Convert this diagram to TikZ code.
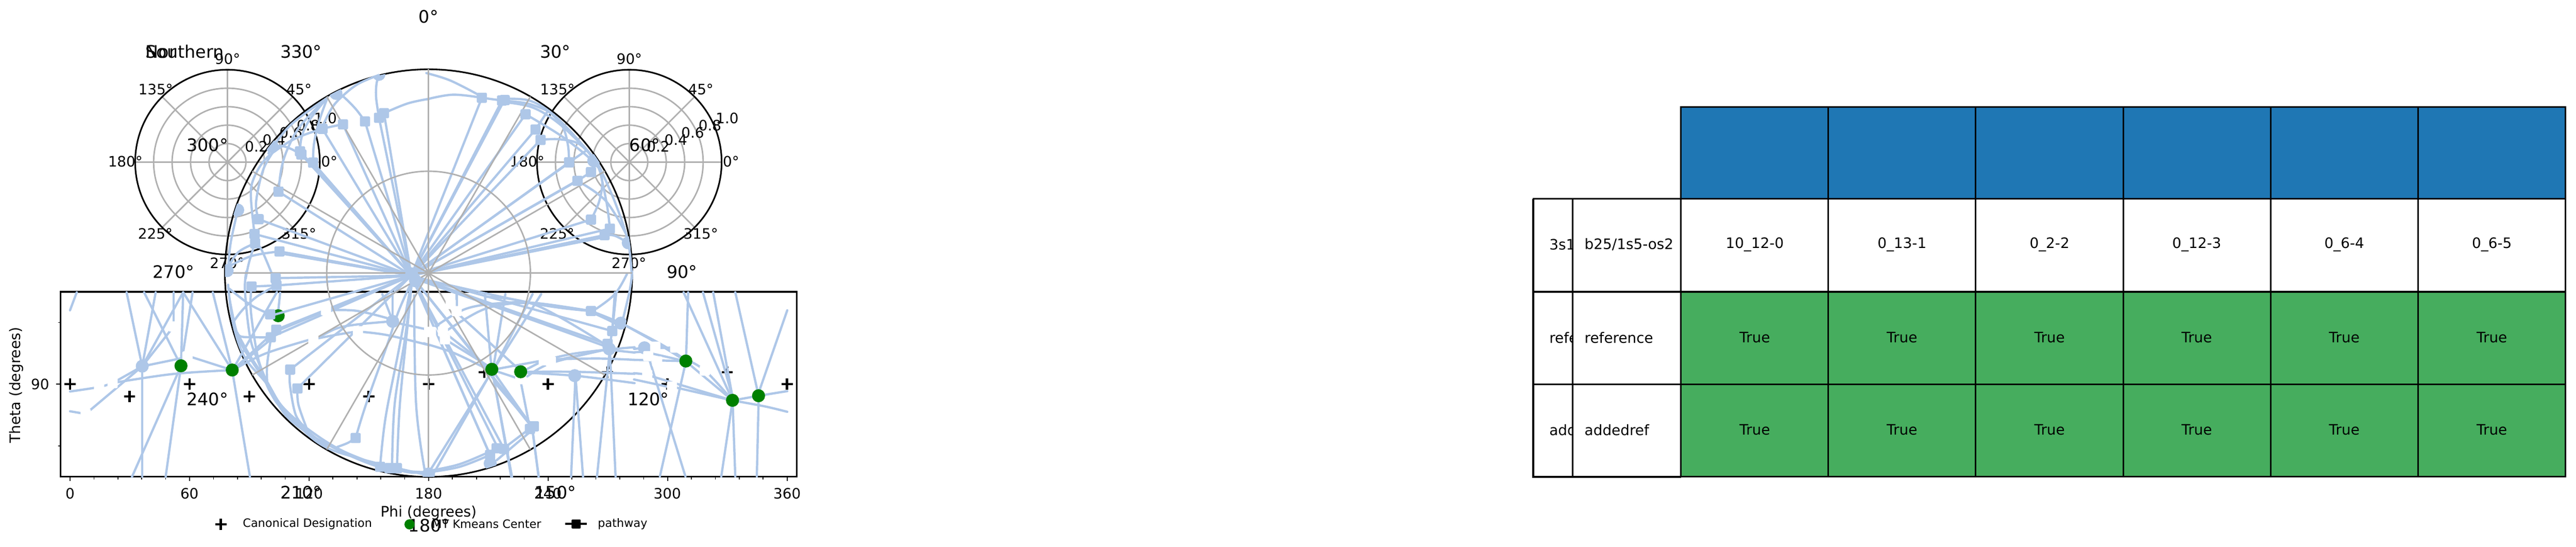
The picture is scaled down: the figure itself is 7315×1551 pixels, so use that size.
\documentclass[tikz,border=0pt]{standalone}
\usepackage{fontspec}
\setmainfont{DejaVu Sans}
\definecolor{pw}{HTML}{AEC7E8}
\definecolor{gridc}{HTML}{B0B0B0}
\definecolor{hdr}{HTML}{1F77B4}
\definecolor{grn}{HTML}{46AD5E}
\definecolor{dot}{HTML}{008000}
\newcommand\bl[1]{\draw[pathln] plot[smooth,tension=.6] coordinates {#1};}
\newcommand\st[1]{\draw[pathln] #1;}
\tikzset{
  pathln/.style={draw=pw,line width=.065cm,line join=round,line cap=round},
  gridl/.style={draw=gridc,line width=.042cm},
  frame/.style={draw=black,line width=.045cm},
  tick/.style={draw=black,line width=.025cm},
  bigl/.style={font=\fontsize{13.9}{16}\selectfont,inner sep=0pt},
  tl/.style={font=\fontsize{11.6}{14}\selectfont,inner sep=0pt},
  legl/.style={font=\fontsize{9.3}{11}\selectfont,inner sep=0pt,anchor=west},
  cellt/.style={font=\fontsize{11.6}{14}\selectfont,inner sep=0pt},
  cellw/.style={cellt,anchor=west},
  plusm/.style={draw=black,line width=.065cm},
  zthree/.style={shift={(0cm,-7.5cm)},x=.007651cm,y=-.005102cm},
  zfour/.style={shift={(12cm,-7.5cm)},x=.007651cm,y=-.005102cm},
  zseven/.style={shift={(6.4cm,-1.9cm)},x=.0036996cm,y=-.003827cm},
  zeight/.style={shift={(12.1cm,-1.9cm)},x=.003762cm,y=-.003827cm},
  znine/.style={shift={(6.4cm,-7.7cm)},x=.0036996cm,y=-.003762cm},
  zten/.style={shift={(12.1cm,-7.7cm)},x=.003762cm,y=-.003762cm}
}
\newcommand\sqb[1]{\foreach \p in {#1} \fill[pw,rounded corners=.04cm] \p ++(-.145cm,-.145cm) rectangle ++(.29cm,.29cm);}
\newcommand\sqw[1]{\foreach \p in {#1} \fill[white,rounded corners=.04cm] \p ++(-.145cm,-.145cm) rectangle ++(.29cm,.29cm);}
\newcommand\cirb[1]{\foreach \p in {#1} \fill[pw] \p circle[radius=.185cm];}
\newcommand\toH[1]{\foreach \p in {#1} \draw[pathln] \p -- (H);}
\begin{document}
\begin{tikzpicture}[x=.01cm,y=-.01cm]
\useasboundingbox (0,0) rectangle (7315,1551);
\coordinate (C) at (1217,775);
\coordinate (H) at (1168,782);
\coordinate (LP) at (646,460);
\coordinate (RP) at (1787,460);
% small polar axes
\foreach \c in {LP,RP}{
  \foreach \r in {.524,1.048,1.572,2.096}
    \draw[gridl] (\c) circle[radius=\r cm];
  \foreach \a in {0,45,...,315}
    \draw[gridl] (\c) -- ++(\a:2.62cm);
  \draw[frame] (\c) circle[radius=2.62cm];
}
% rectangular axes
\draw[frame] (172,828) rectangle (2263,1353);
\foreach \i in {0,...,6}{
  \pgfmathsetmacro\xx{199+339.33*\i}
  \draw[tick] (\xx,1353) -- ++(0,12);
}
\foreach \i in {1,...,29}{
  \pgfmathsetmacro\xx{199+67.867*\i}
  \draw[tick] (\xx,1353) -- ++(0,7);
}
\draw[tick] (172,1090) -- ++(-13,0);
\draw[tick] (172,915) -- ++(-7,0);
\draw[tick] (172,1265) -- ++(-7,0);
% big polar frame
\draw[frame] (C) circle[radius=5.78cm];
% canonical markers
\foreach \p in {(199,1090),(368,1125),(538,1090),(708,1125),(878,1090),(1047,1125),(1217,1090),(1375,1056),(1556,1090),(1725,1056),(1895,1090),(2065,1056),(2235,1090)}
  \draw[plusm] \p ++(-.16cm,0cm) -- ++(.32cm,0cm) \p ++(0cm,-.16cm) -- ++(0cm,.32cm);
% small polar and big polar labels
\foreach \n/\t/\x/\y in {a1/90/646/168,a2/45/849/254,a3/135/442/254,a4/180/356/458,a5/0/935/458,a6/225/441/663,a7/315/849/663,a8/270/645/747,
  b1/90/1787/168,b2/45/1990/254,b3/135/1583/254,b4/180/1497/458,b5/0/2076/458,b6/225/1582/663,b7/315/1990/663,b8/270/1786/747}
  \node[tl] (\n) at (\x,\y) {\t°};
\foreach \n/\t/\x/\y in {c1/0.2/728/416,c2/0.4/778/397,c3/0.6/826/376,c4/0.8/875/356,c5/1.0/924/336,
  d1/0.2/1869/416,d2/0.4/1919/397,d3/0.6/1967/376,d4/0.8/2016/356,d5/1.0/2065/336}
  \node[tl] (\n) at (\x,\y) {\t};
\foreach \n/\t/\x/\y in {e0/0/1217/48,e1/30/1577/147,e2/60/1831/411,e3/90/1937/771,e4/120/1841/1133,e5/150/1577/1398,e6/180/1219/1491,e7/210/855/1398,e8/240/589/1133,e9/270/493/771,e10/300/589/411,e11/330/855/147}
  \node[bigl] (\n) at (\x,\y) {\t°};
\node[bigl,anchor=west] (tS) at (413,147) {Southern};
\node[bigl,anchor=west] (tN) at (413,147) {Nor};
% tick labels of rectangular axes
\foreach \n/\t/\x in {f0/0/199,f1/60/538,f2/120/878,f3/180/1217,f4/240/1556,f5/300/1895,f6/360/2235}
  \node[tl] (\n) at (\x,1400) {\t};
\node[tl] (f7) at (114,1091) {90};
\node[font=\fontsize{11.7}{14}\selectfont,inner sep=0pt] (xl) at (1217,1455) {Phi (degrees)};
\node[font=\fontsize{11.7}{14}\selectfont,inner sep=0pt,rotate=90] (yl) at (47,1093) {Theta (degrees)};
% legend
\draw[plusm] (611,1488) -- (643,1488) (627,1472) -- (627,1504);
\node[legl] (g1) at (689,1487) {Canonical Designation};
\fill[dot] (1163,1488) circle[radius=.145cm];
\node[legl] (g2) at (1226,1487) {MT Kmeans Center};
\draw[draw=black,line width=.06cm] (1605,1487) -- (1667,1487);
\fill[black,rounded corners=.03cm] (1623,1474) rectangle (1649,1500);
\node[legl] (g3) at (1697,1487) {pathway};
% pathway lines --------------------------------------------------
\begin{scope}[zseven]
\toH{(745,458),(903,425),(1072,403),(1180,376),(1218,342),(573,625),(583,648),(673,708),(407,923),(254,1127),(223,1237),(415,1366),(420,1380)}
\bl{(1180,376)(1158,230)(1160,130)(1178,60)}
\bl{(1218,342)(1400,270)(1568,235)}
\bl{(1072,403)(1000,310)(900,215)(848,195)}
\bl{(903,425)(745,458)(560,520)(430,590)(300,690)(215,830)(195,960)(223,1237)}
\bl{(673,708)(680,570)(720,400)(785,225)}
\bl{(583,648)(500,605)(430,585)(360,590)}
\bl{(407,923)(430,750)(480,600)(580,430)(785,225)}
\bl{(573,625)(585,520)(640,400)(780,230)}
\bl{(254,1127)(235,1000)(290,760)(380,610)}
\bl{(755,420)(820,300)(900,215)(1020,125)(1178,60)}
\bl{(228,1306)(100,1370)(15,1490)}
\bl{(415,1366)(200,1400)(20,1480)}
\bl{(228,1306)(275,1350)(360,1540)}
\bl{(95,1060)(40,1300)(20,1500)}
\bl{(228,1300)(180,1450)(155,1568)}
\bl{(330,640)(500,430)(780,230)}
\end{scope}
\begin{scope}[zeight]
\toH{(418,228),(570,248),(585,250),(747,350),(822,463),(860,540),(1075,706),(1060,720),(1138,843),(1120,850),(1240,1130),(1382,1197),(1342,1245),(1342,1260)}
\bl{(0,240)(200,205)(418,228)}
\bl{(0,45)(180,100)(400,210)}
\bl{(418,228)(570,248)(760,270)(915,325)}
\bl{(585,235)(760,245)(900,310)(1050,440)(1250,660)}
\bl{(585,260)(800,300)(1000,420)(1210,620)(1310,760)}
\bl{(747,350)(1000,500)(1200,650)(1290,740)}
\st{(822,463)--(915,325)}
\bl{(860,540)(1000,535)(1150,570)(1270,690)}
\bl{(1075,706)(1065,570)(1020,430)(915,325)}
\st{(1075,706)--(1210,615)}
\st{(1240,778)--(1138,843)}
\st{(1240,778)--(1280,720)}
\bl{(1138,843)(1350,990)(1500,1230)}
\bl{(1240,1130)(1300,1000)(1325,850)(1290,730)}
\bl{(1382,1197)(1360,1020)(1310,780)}
\bl{(1342,1245)(1420,1250)(1525,1305)}
\bl{(1280,690)(1420,1000)(1520,1300)(1548,1568)}
\end{scope}
\begin{scope}[znine]
\toH{(385,50),(392,105),(390,438),(390,450),(348,495),(497,738),(553,880)}
\st{(200,113)--(392,105)}
\bl{(1000,1253)(1080,1000)(1240,560)(1330,300)(1420,100)}
\bl{(1188,1470)(1230,1100)(1330,600)(1420,130)}
\bl{(1280,1480)(1300,1000)(1380,500)(1430,100)}
\bl{(1318,1480)(1340,1000)(1400,400)(1430,100)}
\bl{(1530,1490)(1465,1000)(1450,180)}
\bl{(343,322)(190,250)(30,130)}
\bl{(200,113)(195,300)(250,650)(320,830)}
\bl{(60,380)(130,290)(240,190)(392,105)}
\st{(395,155)--(52,745)}
\st{(420,160)--(405,300)}
\bl{(348,495)(240,495)(120,490)(90,460)}
\bl{(348,510)(320,700)(320,830)}
\bl{(497,738)(495,850)(540,1080)(620,1180)}
\bl{(553,880)(560,1000)(620,1170)}
\bl{(1000,1253)(940,1290)(860,1320)}
\bl{(20,100)(60,400)(150,650)(320,850)(480,1100)(780,1300)(1180,1470)(1530,1510)}
\bl{(30,200)(100,500)(220,700)(330,850)(440,1020)(640,1190)(900,1350)(1240,1480)}
\bl{(160,0)(150,150)(190,500)(260,700)(340,900)(460,1060)(780,1320)}
\bl{(90,460)(180,620)(320,830)(420,1000)(700,1280)(1000,1400)(1540,1530)}
\bl{(1188,1450)(1400,1510)(1568,1510)}
\st{(52,745)--(390,440)}
\st{(52,745)--(350,510)}
\bl{(52,745)(300,620)(640,515)}
\bl{(710,500)(850,430)(1000,400)(1240,378)}
\bl{(675,510)(830,480)(985,455)}
\bl{(1055,455)(1250,480)(1568,555)}
\bl{(772,292)(1000,295)(1240,350)}
\st{(1330,390)--(1568,440)}
\st{(1287,378)--(1205,170)}
\st{(1285,378)--(1285,160)}
\end{scope}
\begin{scope}[zten]
\toH{(1400,448),(1370,550),(770,1140),(790,1150),(530,1310),(585,1335),(480,1380),(470,1360)}
\bl{(-100,40)(800,240)(1240,297)}
\bl{(-100,50)(700,330)(1340,560)}
\bl{(450,190)(830,255)(1340,545)}
\bl{(60,420)(300,280)(600,235)(850,240)(1240,297)}
\bl{(160,440)(420,290)(650,240)(850,240)}
\bl{(-20,540)(200,610)(430,720)}
\bl{(1240,297)(1350,340)(1470,390)}
\bl{(1240,305)(1350,355)(1440,400)}
\bl{(1280,280)(1420,170)(1510,20)}
\bl{(1470,400)(1530,150)(1550,0)}
\st{(1400,448)--(1430,160)}
\st{(1382,560)--(1400,440)}
\st{(440,170)--(490,720)}
\st{(595,170)--(505,720)}
\st{(800,170)--(515,720)}
\st{(865,170)--(530,700)}
\st{(240,320)--(690,730)}
\st{(228,170)--(228,270)}
\st{(795,1170)--(610,1310)}
\st{(790,1200)--(530,1420)}
\bl{(480,1380)(250,1470)(20,1510)}
\bl{(490,1350)(250,1450)(20,1500)}
\st{(470,790)--(20,1510)}
\st{(470,790)--(60,1510)}
\st{(495,740)--(645,1545)}
\st{(495,740)--(797,1170)}
\st{(510,830)--(770,1130)}
\st{(125,450)--(495,740)}
\st{(140,510)--(480,720)}
\st{(707,810)--(770,1130)}
\st{(797,1170)--(845,1545)}
\st{(495,740)--(885,668)}
\st{(495,740)--(707,810)}
\st{(713,758)--(885,668)}
\bl{(760,790)(938,690)(1340,590)}
\bl{(713,755)(1120,755)(1568,770)}
\bl{(713,760)(1123,785)(1568,840)}
\bl{(885,668)(1100,620)(1340,590)}
\st{(938,677)--(1340,590)}
\bl{(970,660)(1300,655)(1568,665)}
\st{(1382,585)--(1568,570)}
\st{(1382,590)--(1568,610)}
\st{(1123,785)--(1090,1545)}
\st{(1123,785)--(1180,1545)}
\st{(1382,585)--(1285,1545)}
\st{(1382,585)--(1425,1545)}
\end{scope}
\begin{scope}[zfour]
\bl{(738,328)(860,430)(977,538)}
\bl{(738,328)(880,440)(960,515)}
\bl{(784,490)(830,490)(950,530)}
\st{(784,470)--(823,465)}
\st{(823,465)--(937,463)}
\st{(784,531)--(977,538)}
\st{(784,605)--(833,612)}
\st{(784,640)--(908,680)}
\st{(833,615)--(1150,757)}
\st{(925,680)--(1150,757)}
\bl{(965,520)(1047,590)(1150,757)}
\st{(977,540)--(1150,757)}
\bl{(1150,757)(1247,731)(1353,705)}
\bl{(1150,757)(1270,790)(1353,820)}
\st{(977,538)--(985,155)}
\st{(977,538)--(880,1180)}
\st{(837,510)--(975,1180)}
\st{(1150,757)--(968,155)}
\st{(1150,740)--(1040,155)}
\st{(1150,740)--(1078,155)}
\st{(1245,720)--(1160,155)}
\st{(1250,700)--(1353,255)}
\st{(1150,757)--(1108,1180)}
\st{(1150,757)--(1160,1180)}
\st{(1247,731)--(1240,1180)}
\st{(405,900)--(430,1180)}
\st{(257,584)--(328,1180)}
\st{(713,155)--(703,370)}
\end{scope}
\begin{scope}[zthree]
\st{(260,255)--(285,155)}
\st{(528,567)--(470,155)}
\st{(528,567)--(578,155)}
\st{(528,567)--(680,155)}
\st{(528,567)--(645,345)}
\st{(645,345)--(645,155)}
\st{(672,565)--(535,155)}
\st{(672,565)--(680,155)}
\st{(672,565)--(715,155)}
\st{(862,588)--(680,155)}
\st{(862,588)--(790,155)}
\st{(528,567)--(528,1182)}
\st{(672,565)--(490,1182)}
\st{(672,565)--(615,1182)}
\st{(862,588)--(928,1182)}
\st{(528,567)--(418,660)}
\st{(528,567)--(318,832)}
\st{(318,832)--(260,817)}
\bl{(260,707)(368,682)(418,660)}
\bl{(418,660)(640,610)(862,588)}
\st{(528,567)--(680,520)}
\st{(710,515)--(862,588)}
\end{scope}
% grid of the big polar axes over the lines
\draw[gridl] (C) circle[radius=2.89cm];
\foreach \a in {0,30,...,330}
  \draw[gridl] (C) -- ++(\a:5.78cm);
% hub and markers
\cirb{(1169,777),(1180,797),(404,1039),(1115,912),(1632,1066),(1730,990),(1830,987)}
\begin{scope}
\clip (C) circle[radius=5.78cm];
\cirb{(1076,211),(954,265),(773,416),(675,596),(645,768),(1686,456),(1784,689),(1392,1315),(1217,1345),(1763,917)}
\end{scope}
\begin{scope}[znine]\sqw{(772,292),(675,510),(1018,450),(1565,455)}\end{scope}
\begin{scope}[zten]\sqw{(228,298),(183,245),(125,450),(35,455),(140,510),(885,668),(938,677),(707,810)}\end{scope}
\begin{scope}[zthree]\sqw{(645,345),(696,512),(418,660),(368,682),(318,832)}\end{scope}
\begin{scope}[zfour]\sqw{(833,615),(925,680),(1047,590),(937,463),(863,458),(870,540),(837,510)}\end{scope}
\foreach \p in {(514,1038),(659.5,1050),(790,896),(1396.6,1048),(1478.5,1055),(1947.5,1024.5),(2080,1136),(2154,1123)}
  \fill[dot] \p circle[radius=.185cm];
\begin{scope}[zseven]\sqb{(745,458),(903,425),(1072,403),(1180,376),(1218,342),(573,625),(583,648),(673,708),(407,923),(254,1127),(223,1237),(228,1306),(415,1366)}\end{scope}
\begin{scope}[zeight]\sqb{(418,228),(570,248),(590,245),(747,350),(822,463),(860,540),(1075,706),(1240,778),(1138,843),(1240,1130),(1382,1197),(1342,1245)}\end{scope}
\begin{scope}[znine]
\st{(375,325)--(H)}
\sqb{(385,50),(392,105),(200,113),(343,322),(390,438),(348,495),(497,738),(553,880),(1000,1253),(1188,1470),(1280,1480),(1318,1480),(1260,1480)}
\end{scope}
\begin{scope}[zten]\sqb{(1240,297),(1400,448),(1365,545),(810,1165),(780,1185),(530,1330),(585,1335),(480,1380)}\end{scope}
% table ----------------------------------------------------------
\foreach \i/\x/\xe in {0/4773/5192,1/5192/5610,2/5610/6029,3/6029/6448,4/6448/6866,5/6866/7285}{
  \fill[hdr] (\x,303) rectangle (\xe,564);
  \fill[grn] (\x,828) rectangle (\xe,1353);
  \draw[frame] (\x,303) rectangle (\xe,564);
  \draw[frame] (\x,564) rectangle (\xe,828);
  \draw[frame] (\x,828) rectangle (\xe,1090);
  \draw[frame] (\x,1090) rectangle (\xe,1353);
}
\draw[frame] (4354,564) rectangle (4773,828);
\draw[frame] (4354,828) rectangle (4773,1090);
\draw[frame] (4354,1090) rectangle (4773,1353);
\draw[draw=black,line width=.06cm] (4354,564) -- (4354,1353) -- (4773,1353);
\draw[frame] (4466,564) -- (4466,1353);
\begin{scope}
\clip (4354,564) rectangle (4464,1353);
\node[cellw] (l1) at (4399,694) {3s1};
\node[cellw] (l2) at (4399,958) {reference};
\node[cellw] (l3) at (4399,1220) {addedref};
\end{scope}
\node[cellw] (m1) at (4499,694) {b25/1s5-os2};
\node[cellw] (m2) at (4499,958) {reference};
\node[cellw] (m3) at (4499,1220) {addedref};
\foreach \n/\t/\x in {h1/10\_12-0/4983,h2/0\_13-1/5401,h3/0\_2-2/5820,h4/0\_12-3/6238,h5/0\_6-4/6657,h6/0\_6-5/7076}{
  \node[cellt] (\n) at (\x,694) {\t};
  \node[cellt] (\n a) at (\x,958) {True};
  \node[cellt] (\n b) at (\x,1220) {True};
}
\end{tikzpicture}
\end{document}
